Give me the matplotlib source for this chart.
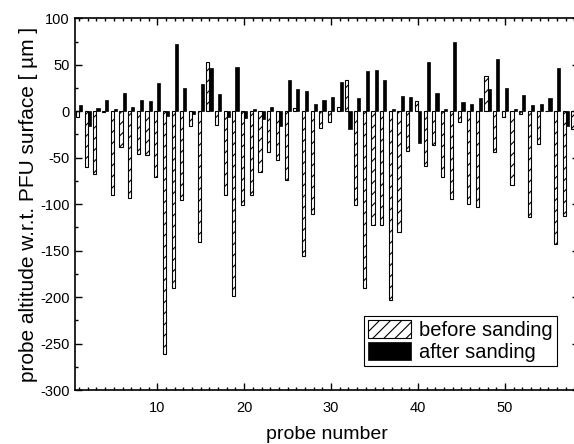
import matplotlib
matplotlib.use("Agg")
import matplotlib.pyplot as plt
import numpy as np
from matplotlib.ticker import MultipleLocator

plt.rcParams['font.family'] = ['Liberation Sans', 'DejaVu Sans']
plt.rcParams['hatch.linewidth'] = 0.8
plt.rcParams['axes.unicode_minus'] = False

probes = list(range(1, 59))
before_sanding = [-6, -60, -68, -1, -90, -38, -93, -45.5, -47.5, -70.5,
                  -261, -190, -95, -16, -141, 52.5, -15, -90.5, -199, -100.5,
                  -90.5, -65, -43.5, -52, -74, 3, -155.5, -111, -18, -11.5,
                  5, 33.5, -101, -190.5, -122, -122.5, -203, -130.5, -43, 11.5,
                  -58.5, -36, -71, -94, -12, -100, -103.5, 37.5, -44, -6,
                  -79, -3, -113.5, -35, 0, -143, -112.5, -19]
after_sanding = [6.5, -16, 3.5, 12.5, 2, 20, 5, 12.5, 11.5, 30.5,
                 -5, 72.5, 24.5, -2.5, 29, 46.5, 18.5, -6, 47.5, -7,
                 2.5, -8, 5, -16, 33.5, 23.5, 22, 8, 12.5, 15.5,
                 31, -19.5, 14.5, 43, 44.5, 33.5, 2, 16, 15, -34.5,
                 53.5, 20, 2.5, 74.5, 9.5, 7.5, 14, 23.5, 56.5, 25,
                 2.5, 17, 6.5, 8, 14.5, 47, -16, -5]

W, H = 574, 444
fig = plt.figure(figsize=(W / 100, H / 100), dpi=100)
left, right, top, bottom = 74.7, 578.8, 18.3, 390.0
ax = fig.add_axes([left / W, (H - bottom) / H, (right - left) / W, (bottom - top) / H])

x = np.array(probes, dtype=float)
bw = 0.36
ax.bar(x - bw / 2, before_sanding, width=bw, facecolor='white', edgecolor='black',
       linewidth=0.8, hatch='///', label='before sanding')
ax.bar(x + bw / 2, after_sanding, width=bw, facecolor='black', edgecolor='black',
       linewidth=0.5, label='after sanding')

ax.set_xlim(0.5, 58.5)
ax.set_ylim(-300, 100)
ax.xaxis.set_major_locator(MultipleLocator(10))
ax.xaxis.set_minor_locator(MultipleLocator(1))
ax.yaxis.set_major_locator(MultipleLocator(50))
ax.yaxis.set_minor_locator(MultipleLocator(25))
ax.tick_params(which='both', direction='in', top=True, bottom=True, left=True, right=True,
               labelsize=10.5, width=1)
ax.tick_params(which='major', length=5)
ax.tick_params(which='minor', length=2.5)
ax.tick_params(axis='x', which='major', pad=8)
ax.tick_params(axis='y', which='minor', right=False)
for s in ax.spines.values():
    s.set_linewidth(1.2)

ax.set_xlabel('probe number', fontsize=14, labelpad=8)
ax.set_ylabel('probe altitude w.r.t. PFU surface [ µm ]', fontsize=15, labelpad=2)

leg = ax.legend(loc='lower right', bbox_to_anchor=(0.957, 0.065), fontsize=14.5,
                frameon=True, fancybox=False, edgecolor='black', framealpha=1,
                handlelength=2.15, handleheight=1.0, borderaxespad=0,
                labelspacing=0.1, handletextpad=0.4, borderpad=0.2)
leg.get_frame().set_linewidth(0.8)

fig.savefig('out.png', dpi=100)
